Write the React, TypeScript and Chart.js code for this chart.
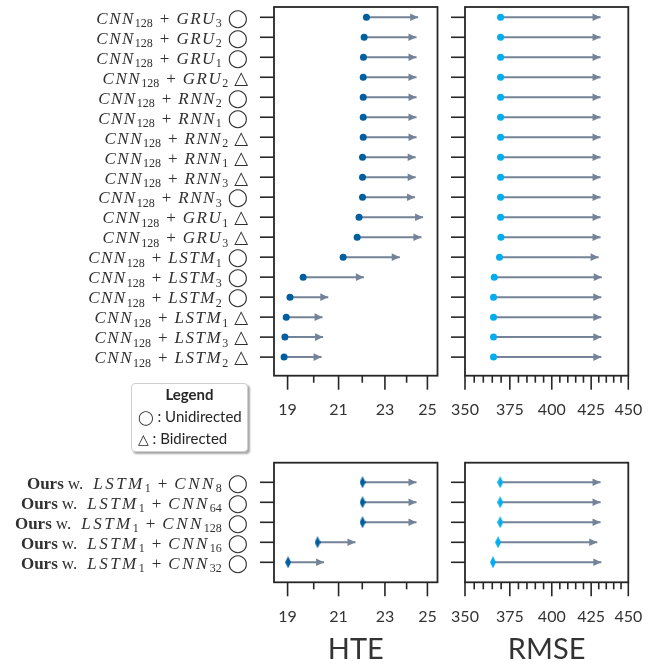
import React, { useEffect, useRef } from 'react';
import { Chart, registerables } from 'chart.js';
Chart.register(...registerables);

// ---------- data ----------
const topRnn = ['GRU', 'GRU', 'GRU', 'GRU', 'RNN', 'RNN', 'RNN', 'RNN', 'RNN', 'RNN', 'GRU', 'GRU', 'LSTM', 'LSTM', 'LSTM', 'LSTM', 'LSTM', 'LSTM'];
const topRnnSub = ['3', '2', '1', '2', '2', '1', '2', '1', '3', '3', '1', '3', '1', '3', '2', '1', '3', '2'];
const topDir = ['uni', 'uni', 'uni', 'bi', 'uni', 'uni', 'bi', 'bi', 'bi', 'uni', 'bi', 'bi', 'uni', 'uni', 'uni', 'bi', 'bi', 'bi'];
const topHteStart = [22.18, 22.08, 22.05, 22.04, 22.04, 22.04, 22.04, 22.01, 22.01, 22.01, 21.86, 21.78, 21.19, 19.59, 19.09, 18.95, 18.9, 18.87];
const topHteEnd = [24.55, 24.47, 24.47, 24.47, 24.47, 24.47, 24.47, 24.43, 24.43, 24.4, 24.79, 24.71, 23.68, 22.07, 20.58, 20.35, 20.37, 20.31];
const topRmseStart = [369.7, 369.7, 369.7, 369.7, 369.7, 369.7, 369.7, 369.7, 369.7, 369.7, 369.7, 369.9, 369.1, 366.1, 365.7, 365.7, 365.7, 365.7];
const topRmseEnd = [431.2, 431.2, 431.2, 431.2, 431.2, 431.2, 431.2, 431.2, 431.2, 431.2, 431.2, 431.2, 429.9, 432.0, 431.7, 431.7, 431.7, 431.7];

const botCnnSub = ['8', '64', '128', '16', '32'];
const botHteStart = [22.01, 22.01, 22.01, 20.15, 19.02];
const botHteEnd = [24.47, 24.47, 24.47, 21.71, 20.41];
const botRmseStart = [369.5, 369.5, 369.5, 368.3, 365.4];
const botRmseEnd = [431.2, 431.2, 431.2, 429.0, 431.7];

const hteTicks = [19, 20, 21, 22, 23, 24, 25];
const hteMajor = [19, 21, 23, 25];
const rmseTicks = [350, 355, 360, 365, 370, 375, 380, 385, 390, 395, 400, 405, 410, 415, 420, 425, 430, 435, 440, 445, 450];
const rmseMajor = [350, 375, 400, 425, 450];

// ---------- styles ----------
const SPINE = '#262626';
const LABEL = '#303030';
const ARROW = '#748397';
const HTE_COLOR = '#005f9f';
const RMSE_COLOR = '#00aeef';
const SERIF = '"Liberation Serif", "DejaVu Serif", serif';
const SANS = 'Lato, "Open Sans", sans-serif';

type Seg = { t: string; f: string; dy?: number; ls?: number; pl?: number; pr?: number };
const it = (t: string, ls = 1.5): Seg => ({ t, f: `italic 17px ${SERIF}`, ls });
const sub = (t: string): Seg => ({ t, f: `12px ${SERIF}`, dy: 3.8 });
const rm = (t: string, pl = 0, pr = 0): Seg => ({ t, f: `17px ${SERIF}`, pl, pr });
const plus = (): Seg => ({ t: '+', f: `17px ${SERIF}`, pl: 7, pr: 7 });
const bf = (t: string): Seg => ({ t, f: `bold 17px ${SERIF}` });
const sym = (d: string): Seg => ({ t: d === 'uni' ? '\u25EF' : '\u25B3', f: `18px "DejaVu Sans"`, pl: 6 });

const topLabels: Seg[][] = topRnn.map((r, i) => [
  it('CNN'), sub('128'), plus(), it(r), sub(topRnnSub[i]), sym(topDir[i]),
]);
const botLabels: Seg[][] = botCnnSub.map((s) => [
  bf('Ours'), rm('w.', 4, 10), it('LSTM', 2.5), sub('1'), plus(), it('CNN', 2.5), sub(s), sym('uni'),
]);

function segWidth(ctx: CanvasRenderingContext2D, s: Seg) {
  ctx.font = s.f;
  let w = 0;
  if (!s.ls) w = ctx.measureText(s.t).width;
  else for (const ch of s.t) w += ctx.measureText(ch).width + s.ls;
  return w + (s.pl || 0) + (s.pr || 0);
}

function drawSegs(ctx: CanvasRenderingContext2D, segs: Seg[], xRight: number, yBase: number) {
  const ws = segs.map((s) => segWidth(ctx, s));
  let x = xRight - ws.reduce((a, b) => a + b, 0);
  ctx.fillStyle = LABEL;
  ctx.textBaseline = 'alphabetic';
  ctx.textAlign = 'left';
  segs.forEach((s, k) => {
    ctx.font = s.f;
    let cx = x + (s.pl || 0);
    if (s.ls) {
      for (const ch of s.t) {
        ctx.fillText(ch, cx, yBase + (s.dy || 0));
        cx += ctx.measureText(ch).width + s.ls;
      }
    } else {
      ctx.fillText(s.t, cx, yBase + (s.dy || 0));
    }
    x += ws[k];
  });
}

type PanelCfg = {
  starts: number[];
  ends: number[];
  yMin: number;
  yMax: number;
  xMin: number;
  xMax: number;
  xTicks: number[];
  xMajor: number[];
  color: string;
  diamond: boolean;
  labels?: Seg[][];
  title?: string;
  yWidth: number;
  padTop: number;
  padRight: number;
  xHeight: number;
};

function thinDiamond(color: string) {
  const c = document.createElement('canvas');
  c.width = 6;
  c.height = 12;
  const g = c.getContext('2d')!;
  g.fillStyle = color;
  g.beginPath();
  g.moveTo(3, 0);
  g.lineTo(6, 6);
  g.lineTo(3, 12);
  g.lineTo(0, 6);
  g.closePath();
  g.fill();
  return c;
}

function makeChart(canvas: HTMLCanvasElement, p: PanelCfg) {
  const rows = p.starts.map((_, i) => i);
  const dots: any = {
    data: p.starts.map((v, i) => ({ x: v, y: i })),
    pointRadius: p.diamond ? 6 : 3.5,
    pointStyle: p.diamond ? thinDiamond(p.color) : 'circle',
    backgroundColor: p.color,
    borderWidth: 0,
    showLine: false,
  };
  const arrows: any[] = p.starts.map((s, i) => ({
    data: [
      { x: s, y: i },
      { x: p.ends[i], y: i },
    ],
    showLine: true,
    borderColor: ARROW,
    borderWidth: 2,
    pointRadius: 0,
    borderCapStyle: 'butt',
  }));
  const plugin = {
    id: 'panel',
    afterDatasetsDraw(chart: any) {
      const ctx = chart.ctx;
      ctx.save();
      ctx.fillStyle = ARROW;
      for (let k = 1; k < chart.data.datasets.length; k++) {
        const meta = chart.getDatasetMeta(k);
        const e = meta.data[1];
        ctx.beginPath();
        ctx.moveTo(e.x, e.y);
        ctx.lineTo(e.x - 8, e.y - 3.8);
        ctx.lineTo(e.x - 8, e.y + 3.8);
        ctx.closePath();
        ctx.fill();
      }
      ctx.restore();
    },
    afterDraw(chart: any) {
      const { ctx, chartArea: a } = chart;
      const xs = chart.scales.x;
      const ys = chart.scales.y;
      ctx.save();
      ctx.strokeStyle = SPINE;
      ctx.lineWidth = 1.8;
      ctx.strokeRect(a.left, a.top, a.right - a.left, a.bottom - a.top);
      ctx.lineWidth = 1.6;
      p.xTicks.forEach((v) => {
        const px = xs.getPixelForValue(v);
        const len = p.xMajor.includes(v) ? 14 : 7;
        ctx.beginPath();
        ctx.moveTo(px, a.bottom);
        ctx.lineTo(px, a.bottom + len);
        ctx.stroke();
      });
      rows.forEach((i) => {
        const py = ys.getPixelForValue(i);
        ctx.beginPath();
        ctx.moveTo(a.left - 14, py);
        ctx.lineTo(a.left, py);
        ctx.stroke();
      });
      if (p.labels) {
        p.labels.forEach((segs, i) => drawSegs(ctx, segs, 248, ys.getPixelForValue(i) + 6.3));
      }
      ctx.restore();
    },
  };
  return new Chart(canvas, {
    type: 'scatter',
    data: { datasets: [dots, ...arrows] },
    options: {
      animation: false,
      responsive: false,
      maintainAspectRatio: false,
      layout: { padding: { top: p.padTop, right: p.padRight, left: 0, bottom: 0 } },
      plugins: { legend: { display: false }, tooltip: { enabled: false } },
      scales: {
        x: {
          type: 'logarithmic',
          position: 'bottom',
          min: p.xMin,
          max: p.xMax,
          afterBuildTicks: (s: any) => {
            s.ticks = p.xTicks.map((v) => ({ value: v }));
          },
          ticks: {
            autoSkip: false,
            maxRotation: 0,
            callback: (v: any) => (p.xMajor.includes(Number(v)) ? String(v) : ''),
            font: { family: SANS, size: 16 },
            color: '#333333',
            padding: 25,
          },
          grid: { display: false, drawTicks: false },
          border: { display: false },
          title: {
            display: !!p.title,
            text: p.title || '',
            font: { family: SANS, size: 29 },
            color: '#333333',
            padding: 0,
          },
          afterFit: (s: any) => {
            s.height = p.xHeight;
            s.paddingLeft = 0;
            s.paddingRight = 0;
          },
        } as any,
        y: {
          type: 'linear',
          reverse: true,
          min: p.yMin,
          max: p.yMax,
          afterBuildTicks: (s: any) => {
            s.ticks = rows.map((v) => ({ value: v }));
          },
          ticks: { display: false },
          grid: { display: false, drawTicks: false },
          border: { display: false },
          afterFit: (s: any) => {
            s.width = p.yWidth;
            s.paddingTop = 0;
            s.paddingBottom = 0;
          },
        } as any,
      },
    },
    plugins: [plugin],
  } as any);
}

const panels: { left: number; top: number; w: number; h: number; cfg: PanelCfg }[] = [
  {
    left: 0, top: 0, w: 445, h: 430,
    cfg: {
      starts: topHteStart, ends: topHteEnd, yMin: -0.515, yMax: 17.93, xMin: 18.5, xMax: 25.5,
      xTicks: hteTicks, xMajor: hteMajor, color: HTE_COLOR, diamond: false, labels: topLabels,
      yWidth: 274, padTop: 7, padRight: 7.5, xHeight: 54.3,
    },
  },
  {
    left: 445, top: 0, w: 214, h: 430,
    cfg: {
      starts: topRmseStart, ends: topRmseEnd, yMin: -0.515, yMax: 17.93, xMin: 350, xMax: 450,
      xTicks: rmseTicks, xMajor: rmseMajor, color: RMSE_COLOR, diamond: false,
      yWidth: 20, padTop: 7, padRight: 30.7, xHeight: 54.3,
    },
  },
  {
    left: 0, top: 440, w: 445, h: 227,
    cfg: {
      starts: botHteStart, ends: botHteEnd, yMin: -0.98, yMax: 5.0, xMin: 18.5, xMax: 25.5,
      xTicks: hteTicks, xMajor: hteMajor, color: HTE_COLOR, diamond: true, labels: botLabels, title: 'HTE',
      yWidth: 274, padTop: 22.7, padRight: 7.5, xHeight: 84.7,
    },
  },
  {
    left: 445, top: 440, w: 214, h: 227,
    cfg: {
      starts: botRmseStart, ends: botRmseEnd, yMin: -0.98, yMax: 5.0, xMin: 350, xMax: 450,
      xTicks: rmseTicks, xMajor: rmseMajor, color: RMSE_COLOR, diamond: true, title: 'RMSE',
      yWidth: 20, padTop: 22.7, padRight: 30.7, xHeight: 84.7,
    },
  },
];

function Panel({ left, top, w, h, cfg }: { left: number; top: number; w: number; h: number; cfg: PanelCfg }) {
  const ref = useRef<HTMLCanvasElement>(null);
  useEffect(() => {
    const c = makeChart(ref.current!, cfg);
    return () => c.destroy();
  }, []);
  return (
    <div style={{ position: 'absolute', left, top, width: w, height: h }}>
      <canvas ref={ref} width={w} height={h} style={{ width: w, height: h }} />
    </div>
  );
}

export default function App() {
  return (
    <div style={{ position: 'absolute', left: 0, top: 0, width: 659, height: 667, background: '#fff' }}>
      {panels.map((p, i) => (
        <Panel key={i} {...p} />
      ))}
      <div
        style={{
          position: 'absolute', left: 131, top: 383, width: 115, height: 67,
          border: '1px solid #cfcfcf', borderRadius: 4, background: '#fff',
          boxShadow: '2px 2px 2px rgba(0,0,0,0.35)', fontFamily: SANS, color: SPINE, fontSize: 15,
          zIndex: 5,
        }}
      >
        <div style={{ position: 'absolute', left: 0, width: 115, top: 1, textAlign: 'center', fontWeight: 'bold', lineHeight: '18px' }}>Legend</div>
        <div style={{ position: 'absolute', left: 6, top: 23, lineHeight: '18px', whiteSpace: 'nowrap' }}>
          <span style={{ fontFamily: '"DejaVu Sans"', fontSize: 14 }}>{'\u25EF'}</span> : Unidirected
        </div>
        <div style={{ position: 'absolute', left: 6, top: 45, lineHeight: '18px', whiteSpace: 'nowrap' }}>
          <span style={{ fontFamily: '"DejaVu Sans"', fontSize: 14 }}>{'\u25B3'}</span> : Bidirected
        </div>
      </div>
    </div>
  );
}
